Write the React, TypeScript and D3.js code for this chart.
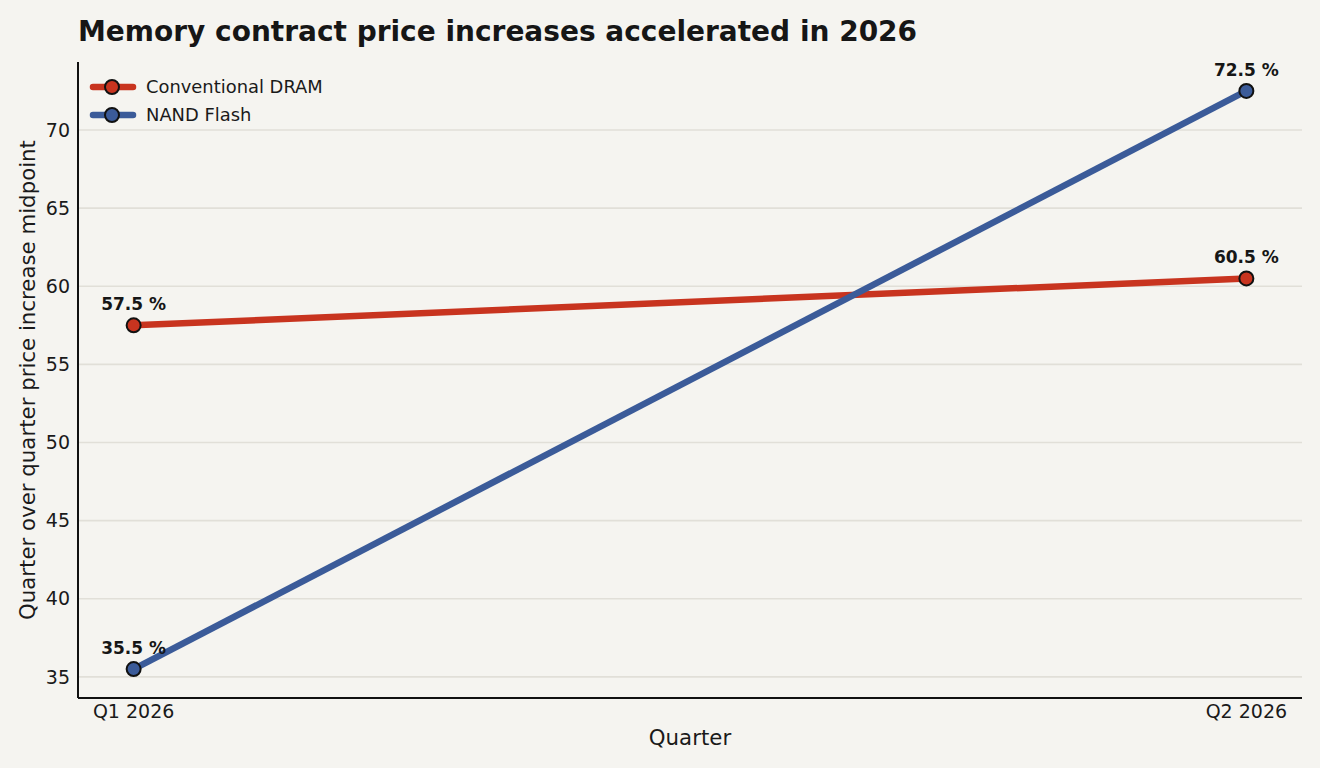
import React from "react";
import * as d3 from "d3";

const quarters = ["Q1 2026", "Q2 2026"];
const dramValues = [57.5, 60.5];
const nandValues = [35.5, 72.5];
const seriesNames = ["Conventional DRAM", "NAND Flash"];
const seriesColors = ["#c8341f", "#3b5b99"];
const yTicks = [35, 40, 45, 50, 55, 60, 65, 70];

const W = 1320;
const H = 768;
const FONT = "DejaVu Sans, sans-serif";

export default function App() {
  const left = 78, right = 1302, top = 62, bottom = 698;
  const x = d3.scaleLinear().domain([-0.05, 1.05]).range([left, right]);
  const allVals = [...dramValues, ...nandValues];
  const yMin = d3.min(allVals)!, yMax = d3.max(allVals)!;
  const pad = (yMax - yMin) * 0.05;
  const y = d3.scaleLinear().domain([yMin - pad, yMax + pad]).range([bottom, top]);
  const line = d3.line<number>().x((_, i) => x(i)).y((d) => y(d));
  const series = [dramValues, nandValues];

  return (
    <svg width={W} height={H} style={{ display: "block", position: "absolute", left: 0, top: 0 }}>
      <rect x={0} y={0} width={W} height={H} fill="#f5f4f0" />
      <text x={78} y={41} fontFamily={FONT} fontWeight="bold" fontSize={28} fill="#161616">
        Memory contract price increases accelerated in 2026
      </text>
      {yTicks.map((t) => (
        <g key={t}>
          <line x1={left} x2={right} y1={y(t)} y2={y(t)} stroke="#e1dfd8" strokeWidth={1.6} />
          <text x={left - 8} y={y(t)} dy="0.35em" textAnchor="end" fontFamily={FONT} fontSize={19} fill="#1a1a1a">
            {t}
          </text>
        </g>
      ))}
      {quarters.map((q, i) => (
        <text key={q} x={x(i)} y={718} textAnchor="middle" fontFamily={FONT} fontSize={19} fill="#1a1a1a">
          {q}
        </text>
      ))}
      <text x={(left + right) / 2} y={745} textAnchor="middle" fontFamily={FONT} fontSize={21.3} fill="#1a1a1a">
        Quarter
      </text>
      <text
        transform={`translate(35,${(top + bottom) / 2}) rotate(-90)`}
        textAnchor="middle"
        fontFamily={FONT}
        fontSize={21.3}
        fill="#1a1a1a"
      >
        Quarter over quarter price increase midpoint
      </text>
      <line x1={left} x2={left} y1={top} y2={bottom} stroke="#111" strokeWidth={2} />
      <line x1={left} x2={right} y1={bottom} y2={bottom} stroke="#111" strokeWidth={2} />
      {series.map((s, si) => (
        <g key={si}>
          <path d={line(s) || ""} fill="none" stroke={seriesColors[si]} strokeWidth={6.5} strokeLinecap="butt" />
          {s.map((v, i) => (
            <g key={i}>
              <circle cx={x(i)} cy={y(v)} r={7} fill={seriesColors[si]} stroke="#111" strokeWidth={2} />
              <text x={x(i)} y={y(v) - 15} textAnchor="middle" fontFamily={FONT} fontWeight="bold" fontSize={17} fill="#161616">
                {v.toFixed(1)} %
              </text>
            </g>
          ))}
        </g>
      ))}
      {seriesNames.map((n, i) => (
        <g key={n} transform={`translate(93,${87 + i * 28})`}>
          <line x1={0} x2={40} y1={0} y2={0} stroke={seriesColors[i]} strokeWidth={6.5} strokeLinecap="round" />
          <circle cx={19} cy={0} r={7} fill={seriesColors[i]} stroke="#111" strokeWidth={2} />
          <text x={53} y={0} dy="0.35em" fontFamily={FONT} fontSize={17.9} fill="#1a1a1a">
            {n}
          </text>
        </g>
      ))}
    </svg>
  );
}
